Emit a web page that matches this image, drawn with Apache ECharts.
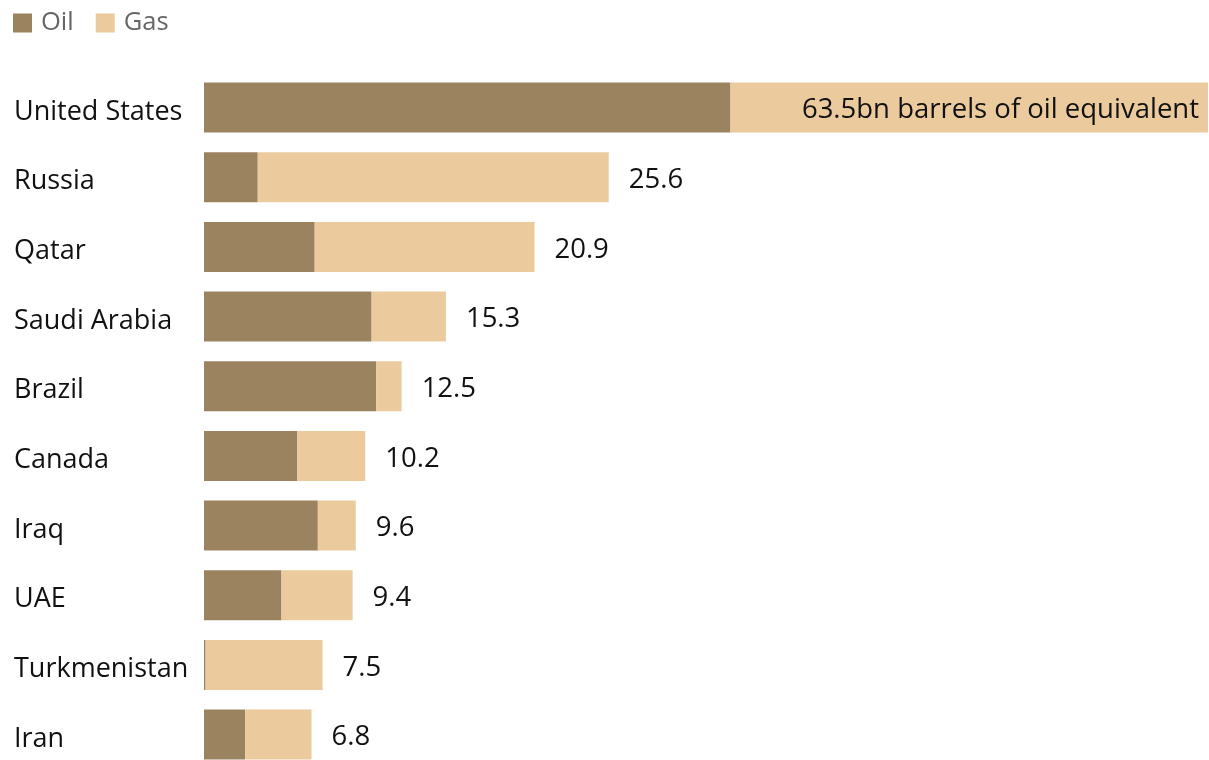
<!DOCTYPE html>
<html>
<head>
<meta charset="utf-8">
<script src="https://cdn.jsdelivr.net/npm/echarts@6/dist/echarts.min.js"></script>
<style>
  html, body { margin: 0; padding: 0; background: #ffffff; overflow: hidden; }
  #chart { width: 1209px; height: 790px; }
</style>
</head>
<body>
<div id="chart"></div>
<script>
// Proven oil and gas reserves by country, bn barrels of oil equivalent
const countries = ['United States', 'Russia', 'Qatar', 'Saudi Arabia', 'Brazil', 'Canada', 'Iraq', 'UAE', 'Turkmenistan', 'Iran'];
const totals = [63.5, 25.6, 20.9, 15.3, 12.5, 10.2, 9.6, 9.4, 7.5, 6.8];
const oil = [33.3, 3.4, 7.0, 10.6, 10.9, 5.9, 7.2, 4.9, 0.1, 2.6];
const gas = totals.map((t, i) => +(t - oil[i]).toFixed(1));

const OIL_COLOR = '#9c8360';
const GAS_COLOR = '#ebcb9e';
const FONT = '"Open Sans", "Noto Sans", sans-serif';

const chart = echarts.init(document.getElementById('chart'));

const gasData = gas.map((v, i) => {
  if (i === 0) {
    return {
      value: v,
      label: {
        show: true,
        position: 'insideRight',
        distance: 9,
        formatter: totals[i].toFixed(1) + 'bn barrels of oil equivalent'
      }
    };
  }
  return { value: v };
});

chart.setOption({
  animation: false,
  legend: {
    left: 13,
    top: 10,
    padding: 0,
    icon: 'rect',
    itemWidth: 19,
    itemHeight: 19,
    itemGap: 22,
    textStyle: { fontFamily: FONT, fontSize: 25.5, color: '#666666', padding: [0, 0, 0, 4] },
    data: ['Oil', 'Gas']
  },
  grid: { left: 204, right: 1, top: 72.7, height: 696.7, containLabel: false },
  xAxis: {
    type: 'value',
    min: 0,
    max: 63.5,
    show: false
  },
  yAxis: {
    type: 'category',
    data: countries,
    inverse: true,
    axisLine: { show: false },
    axisTick: { show: false },
    splitLine: { show: false },
    axisLabel: {
      align: 'left',
      margin: 190,
      formatter: v => '{c|' + v + '}',
      rich: {
        c: {
          fontFamily: FONT,
          fontSize: 27,
          color: '#111111',
          padding: [9, 0, 0, 0]
        }
      }
    }
  },
  series: [
    {
      name: 'Oil',
      type: 'bar',
      stack: 'total',
      barWidth: 50,
      itemStyle: { color: OIL_COLOR },
      data: oil
    },
    {
      name: 'Gas',
      type: 'bar',
      stack: 'total',
      barWidth: 50,
      itemStyle: { color: GAS_COLOR },
      label: {
        show: true,
        position: 'right',
        distance: 20,
        offset: [0, 3],
        fontFamily: FONT,
        fontSize: 27.5,
        color: '#111111',
        formatter: p => totals[p.dataIndex].toFixed(1)
      },
      data: gasData
    }
  ]
});
</script>
</body>
</html>
